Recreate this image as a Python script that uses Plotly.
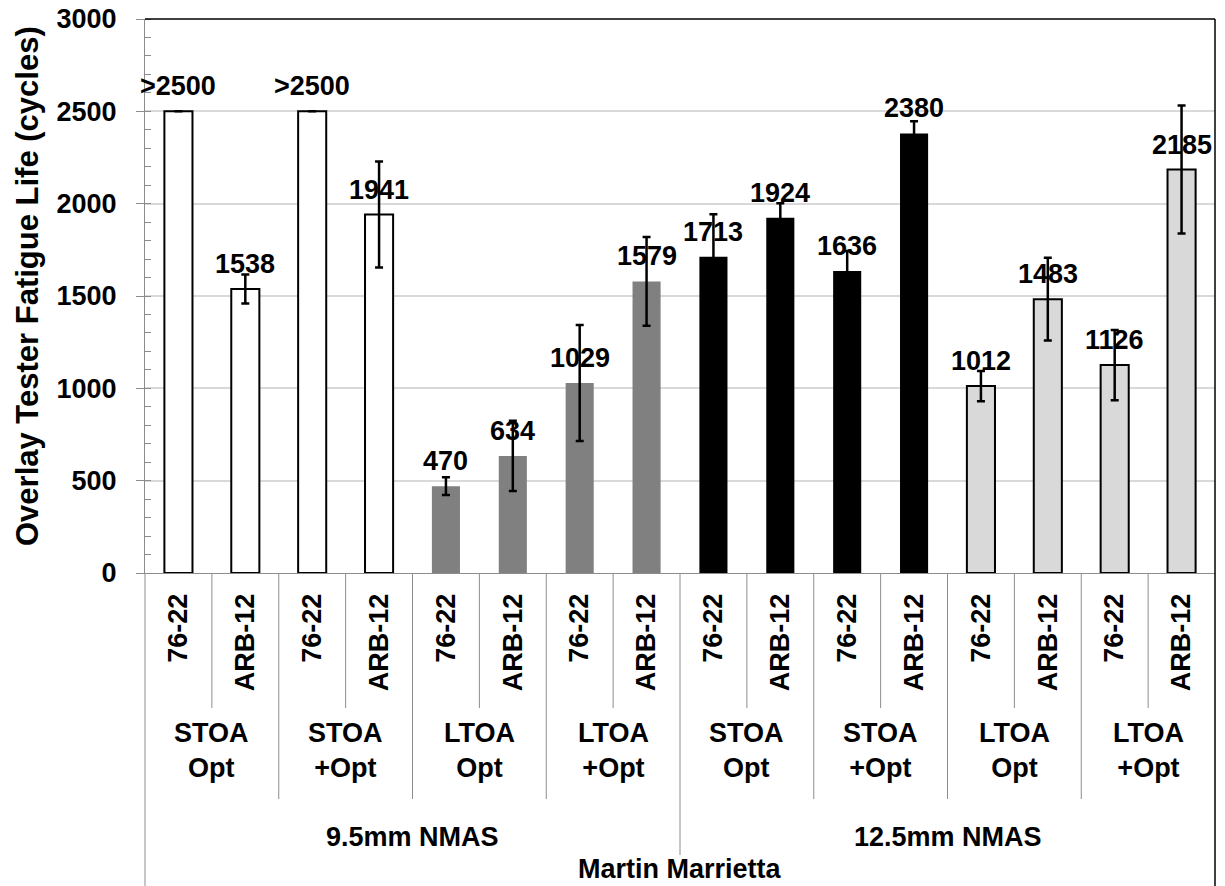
import plotly.graph_objects as go

# data
binders = ["76-22", "ARB-12"] * 8
aging = ["STOA<br>Opt", "STOA<br>+Opt", "LTOA<br>Opt", "LTOA<br>+Opt"] * 2
nmas = ["9.5mm NMAS", "12.5mm NMAS"]
source = "Martin Marrietta"

cycles = [2500, 1538, 2500, 1941, 470, 634, 1029, 1579,
          1713, 1924, 1636, 2380, 1012, 1483, 1126, 2185]
errors = [None, 78, None, 287, 48, 190, 314, 240,
          230, 78, 108, 66, 82, 224, 190, 346]
labels = [">2500", "1538", ">2500", "1941", "470", "634", "1029", "1579",
          "1713", "1924", "1636", "2380", "1012", "1483", "1126", "2185"]

FONT = "Liberation Sans, Arial, sans-serif"
GRID = "#d9d9d9"
AXIS = "#8c8c8c"
BOLD = dict(family=FONT, size=27, color="black", weight="bold")

fills = ["white"] * 4 + ["#808080"] * 4 + ["black"] * 4 + ["#d9d9d9"] * 4
outline = [2, 2, 2, 2, 0, 0, 0, 0, 0, 0, 0, 0, 2, 2, 2, 2]

# page body has an 8px margin; figure is sized so the plot lands where the
# reference has it (plot top 19px, axis at 573px, left 145px on screen)
PAGE = 8
W, H = 1225 - PAGE, 886 - PAGE
TOP, BOTTOM, LEFT = 19, 573, 145


def py(pix):
    return (BOTTOM - pix) / (BOTTOM - TOP)


xs = list(range(len(cycles)))

fig = go.Figure(
    go.Bar(
        x=xs,
        y=cycles,
        width=0.42,
        marker=dict(color=fills, line=dict(color="black", width=outline)),
        error_y=dict(type="data", array=errors, visible=True,
                     color="black", thickness=2.5, width=4),
        showlegend=False,
    )
)

annotations = []
for x, v, t in zip(xs, cycles, labels):
    annotations.append(dict(x=x, y=v, text=t, showarrow=False, yanchor="bottom",
                            yshift=8, font=BOLD))

for i, a in enumerate(aging):
    annotations.append(dict(x=2 * i + 0.5, y=py(750), xref="x", yref="paper",
                            text=a, showarrow=False, yanchor="middle", font=BOLD))
for i, n in enumerate(nmas):
    annotations.append(dict(x=8 * i + 3.5, y=py(837), xref="x", yref="paper",
                            text=n, showarrow=False, yanchor="middle", font=BOLD))
annotations.append(dict(x=7.5, y=py(869), xref="x", yref="paper", text=source,
                        showarrow=False, yanchor="middle", font=BOLD))

# y axis title, placed like the reference
annotations.append(dict(x=0, y=py(286), xref="paper", yref="paper",
                        xshift=-(LEFT - 27),
                        text="Overlay Tester Fatigue Life (cycles)", textangle=-90,
                        showarrow=False, xanchor="center", yanchor="middle",
                        font=dict(family=FONT, size=31, color="black", weight="bold")))

shapes = []
for b in range(1, 16):
    if b == 8:
        bottom = 855
    elif b % 2 == 0:
        bottom = 799
    else:
        bottom = 708
    shapes.append(dict(type="line", xref="x", yref="paper", x0=b - 0.5, x1=b - 0.5,
                       y0=0, y1=py(bottom), line=dict(color=AXIS, width=1)))
shapes.append(dict(type="line", xref="paper", yref="paper", x0=0, x1=0,
                   y0=0, y1=py(900), line=dict(color=AXIS, width=1)))
shapes.append(dict(type="line", xref="paper", yref="paper", x0=1, x1=1,
                   y0=1, y1=py(900), line=dict(color="black", width=1.5)))
shapes.append(dict(type="line", xref="paper", yref="paper", x0=0, x1=1,
                   y0=1, y1=1, line=dict(color="black", width=1.5)))

fig.update_layout(
    width=W,
    height=H,
    margin=dict(l=LEFT - PAGE, r=10, t=TOP - PAGE, b=886 - BOTTOM),
    plot_bgcolor="white",
    paper_bgcolor="white",
    font=BOLD,
    annotations=annotations,
    shapes=shapes,
    xaxis=dict(
        range=[-0.5, 15.5],
        tickmode="array",
        tickvals=xs,
        ticktext=binders,
        tickangle=-90,
        ticks="",
        ticklabelstandoff=9,
        showline=True,
        linecolor=AXIS,
        showgrid=False,
        zeroline=False,
        automargin=False,
        tickfont=BOLD,
    ),
    yaxis=dict(
        range=[0, 3000],
        dtick=500,
        showgrid=True,
        gridcolor=GRID,
        gridwidth=1.5,
        zeroline=False,
        showline=True,
        linecolor=AXIS,
        ticks="outside",
        ticklen=8,
        tickcolor=AXIS,
        minor=dict(dtick=100, ticks="inside", ticklen=6, tickcolor=AXIS, showgrid=False),
        ticklabelstandoff=14,
        ticklabeloverflow="allow",
        automargin=False,
        tickfont=BOLD,
    ),
)

fig.write_html("out.html")
